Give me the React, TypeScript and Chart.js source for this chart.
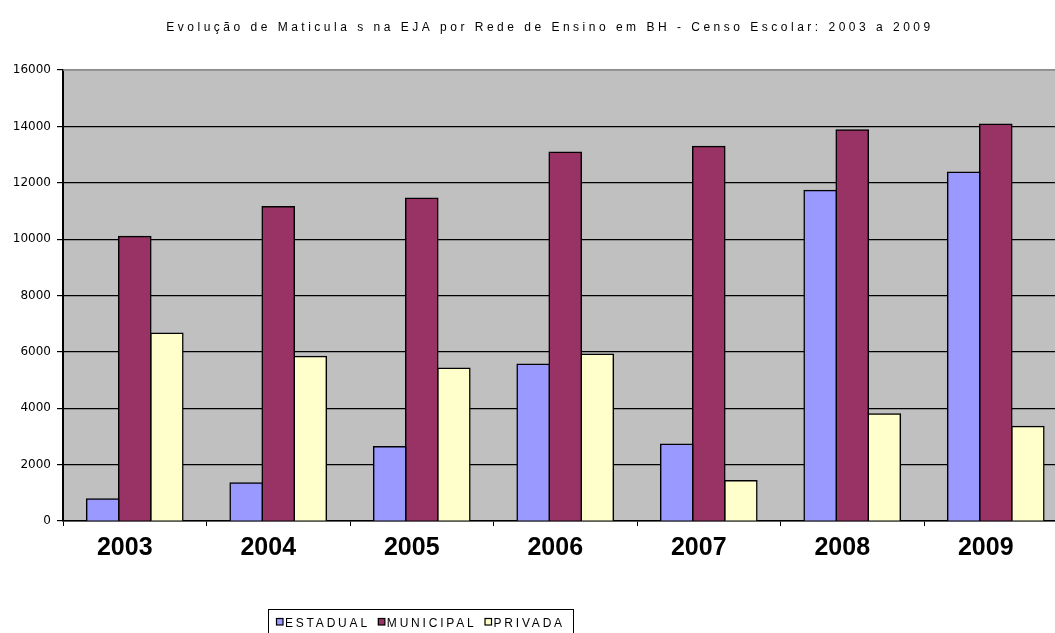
import { useEffect, useRef } from 'react';
import { Chart, registerables } from 'chart.js';

Chart.register(...registerables);

const TITLE = 'Evolução de Maticula s na EJA por Rede de Ensino em BH - Censo Escolar: 2003 a 2009';
const YEARS = ['2003', '2004', '2005', '2006', '2007', '2008', '2009'];
const SERIES_NAMES = ['ESTADUAL', 'MUNICIPAL', 'PRIVADA'];
const ESTADUAL = [780, 1350, 2630, 5560, 2720, 11720, 12370];
const MUNICIPAL = [10090, 11150, 11450, 13080, 13280, 13870, 14070];
const PRIVADA = [6660, 5830, 5420, 5910, 1430, 3790, 3350];
const COLORS = ['#9999FF', '#993366', '#FFFFCC'];
const Y_MIN = 0;
const Y_MAX = 16000;
const Y_STEP = 2000;

export default function App() {
  const ref = useRef<HTMLCanvasElement | null>(null);

  useEffect(() => {
    if (!ref.current) return;
    const seriesValues = [ESTADUAL, MUNICIPAL, PRIVADA];

    const bgPlugin = {
      id: 'plotBg',
      beforeDraw(chart: any) {
        const { ctx, chartArea: a } = chart;
        ctx.save();
        ctx.fillStyle = '#C0C0C0';
        ctx.fillRect(a.left, a.top, a.right - a.left, a.bottom - a.top);
        ctx.restore();
      },
    };

    const titlePlugin = {
      id: 'spacedTitle',
      afterDraw(chart: any) {
        const { ctx } = chart;
        ctx.save();
        ctx.font = '12px "Liberation Sans", Arial, sans-serif';
        (ctx as any).letterSpacing = '3.5px';
        ctx.fillStyle = '#000';
        ctx.textAlign = 'center';
        ctx.textBaseline = 'middle';
        ctx.fillText(TITLE, 550, 28);
        ctx.restore();
      },
    };

    const legendPlugin = {
      id: 'boxLegend',
      afterDraw(chart: any) {
        const { ctx } = chart;
        ctx.save();
        ctx.strokeStyle = '#000';
        ctx.lineWidth = 1;
        ctx.strokeRect(268.5, 609.5, 305, 40);
        ctx.font = '12px "Liberation Sans", Arial, sans-serif';
        (ctx as any).letterSpacing = '2.8px';
        ctx.textBaseline = 'alphabetic';
        ctx.textAlign = 'left';
        let x = 276;
        chart.data.datasets.forEach((ds: any) => {
          ctx.fillStyle = ds.backgroundColor;
          ctx.fillRect(x, 618, 7, 7);
          ctx.strokeStyle = '#000';
          ctx.lineWidth = 1.2;
          ctx.strokeRect(x + 0.5, 618.5, 6.5, 6.5);
          ctx.fillStyle = '#000';
          ctx.fillText(ds.label, x + 9, 626.5);
          x += 9 + ctx.measureText(ds.label).width + 8;
        });
        ctx.restore();
      },
    };

    const topBorderPlugin = {
      id: 'topBorder',
      beforeDatasetsDraw(chart: any) {
        const { ctx, chartArea: a } = chart;
        ctx.save();
        ctx.strokeStyle = '#8C8C8C';
        ctx.lineWidth = 1.5;
        ctx.beginPath();
        ctx.moveTo(a.left, a.top);
        ctx.lineTo(a.right, a.top);
        ctx.stroke();
        ctx.restore();
      },
    };

    const chart = new Chart(ref.current, {
      type: 'bar',
      data: {
        labels: YEARS,
        datasets: SERIES_NAMES.map((name, i) => ({
          label: name,
          data: seriesValues[i],
          backgroundColor: COLORS[i],
          borderColor: '#000',
          borderWidth: 1.5,
          barPercentage: 1,
          categoryPercentage: 0.67,
          inflateAmount: 0.8,
        })),
      },
      options: {
        responsive: false,
        animation: false,
        devicePixelRatio: 1,
        layout: { padding: { top: 70, right: 7.5, left: 0, bottom: 0 } },
        plugins: {
          legend: { display: false },
          title: { display: false },
          tooltip: { enabled: false },
        },
        scales: {
          x: {
            afterFit(scale: any) {
              scale.height = 112;
            },
            grid: {
              display: true,
              drawOnChartArea: false,
              drawTicks: true,
              tickLength: 5,
              color: '#000',
              offset: true,
            },
            border: { display: true, color: '#000', width: 1.5 },
            ticks: {
              color: '#000',
              padding: 7,
              labelOffset: -10,
              font: { family: '"Liberation Sans", Arial', size: 25, weight: 'bold' },
            },
          },
          y: {
            min: Y_MIN,
            max: Y_MAX,
            afterFit(scale: any) {
              scale.width = 63;
            },
            grid: {
              color: (c: any) => (c.tick && c.tick.value === Y_MAX ? '#8C8C8C' : '#000'),
              lineWidth: 1.2,
              tickLength: 6,
              tickColor: '#000',
            },
            border: { display: true, color: '#000', width: 2 },
            ticks: {
              stepSize: Y_STEP,
              color: '#000',
              padding: 6,
              font: { family: '"DejaVu Sans"', size: 12 },
              callback: (v: any) => String(v),
            },
          },
        },
      },
      plugins: [bgPlugin, topBorderPlugin, titlePlugin, legendPlugin],
    } as any);

    return () => chart.destroy();
  }, []);

  return (
    <div
      style={{
        position: 'fixed',
        left: 0,
        top: 0,
        width: 1055,
        height: 633,
        overflow: 'hidden',
        background: '#fff',
      }}
    >
      <canvas ref={ref} width={1075} height={633} style={{ display: 'block' }} />
    </div>
  );
}
